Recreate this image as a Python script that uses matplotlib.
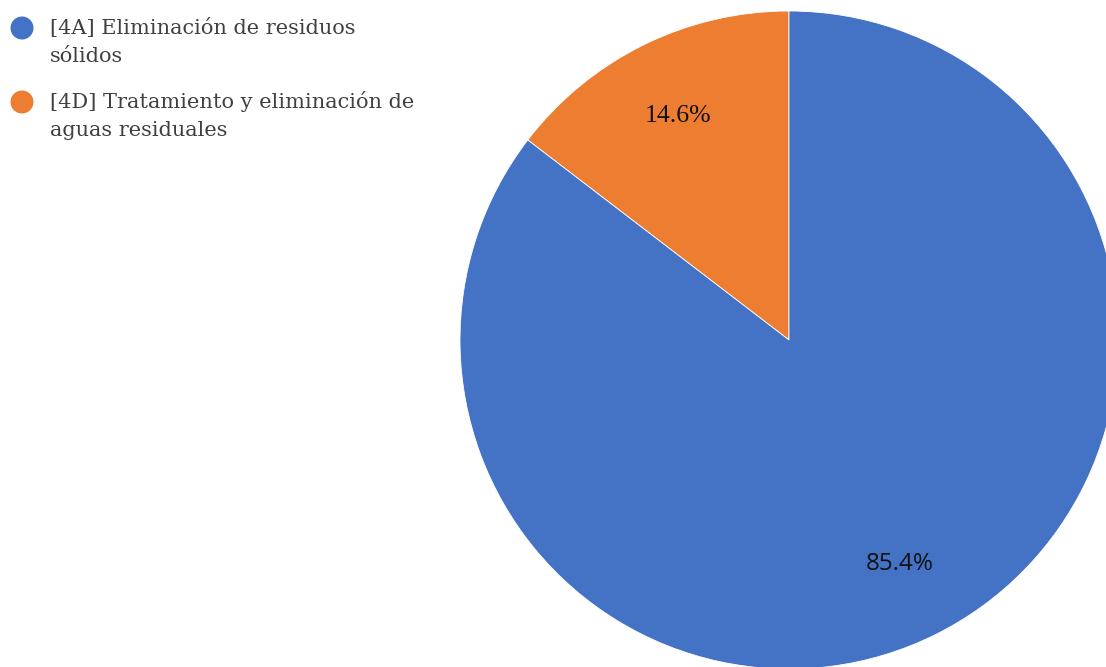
import matplotlib
matplotlib.use("Agg")
import matplotlib.pyplot as plt
from matplotlib.patches import Circle

# Categorías y porcentajes
categorias = ["[4D] Tratamiento y eliminación de\naguas residuales",
              "[4A] Eliminación de residuos\nsólidos"]
porcentajes = [14.6, 85.4]
colores = ["#ED7D31", "#4472C4"]

fig = plt.figure(figsize=(11.06, 6.67), dpi=100)
ax = fig.add_axes([0, 0, 1, 1])

# Ejes en píxeles: 1 unidad = 1 px, origen abajo a la izquierda
wedges, textos, autotextos = ax.pie(
    porcentajes, colors=colores, startangle=90, counterclock=True,
    center=(789, 327), radius=329, autopct="%.1f%%", pctdistance=0.76,
    wedgeprops=dict(edgecolor="white", linewidth=0.6), frame=True)
ax.set_xlim(0, 1106)
ax.set_ylim(0, 667)
ax.set_aspect("equal")
ax.axis("off")

autotextos[0].set_fontfamily("Liberation Serif")
autotextos[0].set_fontsize(18.5)
autotextos[1].set_fontfamily("Open Sans")
autotextos[1].set_fontsize(17.5)
for t in autotextos:
    t.set_color("#111111")

# Leyenda dibujada a mano: círculo alineado con la primera línea
orden = [1, 0]
for k, i in enumerate(orden):
    y_circ = 667 - 28 - 74 * k
    ax.add_patch(Circle((22, y_circ), 11.5, facecolor=colores[i],
                        edgecolor="none", clip_on=False))
    # va="baseline" ancla la última línea del texto
    ax.text(50, y_circ - 34, categorias[i], ha="left", va="baseline",
            family="DejaVu Serif", fontsize=15, color="#404040",
            linespacing=1.59)

fig.savefig("out.png", dpi=100, facecolor="white")
